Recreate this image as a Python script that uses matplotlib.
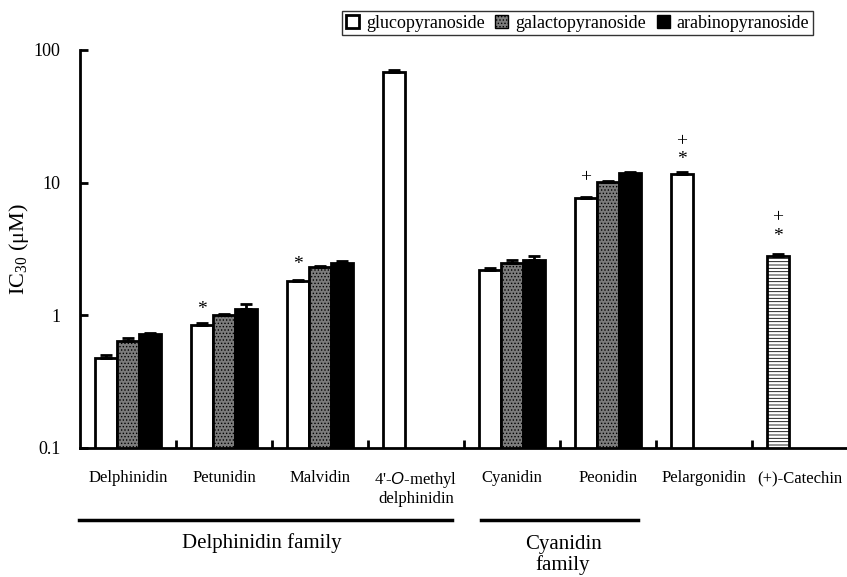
import numpy as np
import matplotlib
matplotlib.use("Agg")
import matplotlib.pyplot as plt
from matplotlib.patches import Patch

plt.rcParams['font.family'] = ['Liberation Serif', 'DejaVu Serif']
plt.rcParams['mathtext.fontset'] = 'custom'
plt.rcParams['mathtext.rm'] = 'Liberation Serif'
plt.rcParams['mathtext.it'] = 'Liberation Sans:italic'
plt.rcParams['hatch.linewidth'] = 0.6

categories = ['Delphinidin', 'Petunidin', 'Malvidin', "4'-$\\it{O}$-methyl\ndelphinidin",
              'Cyanidin', 'Peonidin', 'Pelargonidin', '(+)-Catechin']
series = ['glucopyranoside', 'galactopyranoside', 'arabinopyranoside']

# IC30 values (uM); NaN where the glycoside was not tested
gluco = [0.48, 0.85, 1.80, 68.0, 2.20, 7.6, 11.7, np.nan]
galacto = [0.64, 1.00, 2.30, np.nan, 2.50, 10.1, np.nan, np.nan]
arabino = [0.72, 1.12, 2.50, np.nan, 2.62, 11.8, np.nan, np.nan]
catechin = [np.nan, np.nan, np.nan, np.nan, np.nan, np.nan, np.nan, 2.82]

gluco_err = [0.02, 0.02, 0.04, 3.0, 0.06, 0.25, 0.4, np.nan]
galacto_err = [0.03, 0.02, 0.06, np.nan, 0.12, 0.2, np.nan, np.nan]
arabino_err = [0.02, 0.10, 0.06, np.nan, 0.18, 0.2, np.nan, np.nan]
catechin_err = [np.nan] * 7 + [0.1]

# significance marks: (category index, mark, offset in points above bar)
marks = [(1, '*', 11), (2, '*', 12), (5, '+', 15),
         (6, '*', 10), (6, '+', 23), (7, '*', 14), (7, '+', 27)]

fig = plt.figure(figsize=(8.47, 5.77), dpi=100)
ax = fig.add_axes([80 / 847, 1 - 448 / 577, 768 / 847, 398 / 577])

x = np.arange(len(categories)) + 0.5
w = 0.23
pos = x - w

def bars(xs, vals, errs, **kw):
    vals = np.array(vals, dtype=float)
    errs = np.array(errs, dtype=float)
    ok = ~np.isnan(vals)
    ax.bar(xs[ok], vals[ok], w, edgecolor='black', linewidth=2, zorder=2, **kw)
    ax.errorbar(xs[ok], vals[ok], yerr=[np.zeros(ok.sum()), errs[ok]], fmt='none',
                ecolor='black', elinewidth=2, capsize=4, capthick=2, zorder=3)

bars(pos, gluco, gluco_err, color='white')
bars(x, galacto, galacto_err, color='#7c7c7c', hatch='.....')
bars(x + w, arabino, arabino_err, color='black')
bars(pos, catechin, catechin_err, color='white', hatch='-----')

for i, m, off in marks:
    v = gluco[i] if not np.isnan(gluco[i]) else catechin[i]
    ax.annotate(m, (pos[i], v), xytext=(0, off), textcoords='offset points',
                ha='center', va='center', fontsize=14)

ax.set_yscale('log')
ax.set_ylim(0.1, 100)
ax.set_xlim(0, 8)
ax.set_yticks([0.1, 1, 10, 100])
ax.set_yticklabels(['0.1', '1', '10', '100'], fontsize=13)
ax.yaxis.set_minor_locator(matplotlib.ticker.NullLocator())
ax.tick_params(axis='y', direction='in', length=6, width=2, pad=14)

ax.set_xticks(np.arange(1, 8), minor=True)
ax.tick_params(axis='x', which='minor', direction='in', length=6, width=2)
ax.set_xticks(x)
ax.set_xticklabels(categories, fontsize=12, va='top', linespacing=1.1)
ax.tick_params(axis='x', which='major', length=0, pad=16)

for s in ['top', 'right']:
    ax.spines[s].set_visible(False)
for s in ['left', 'bottom']:
    ax.spines[s].set_linewidth(2)

ax.set_ylabel('IC$_{30}$ ($\\mathrm{\\mu}$M)', fontsize=16, labelpad=2)

# family brackets under the category labels
fig.add_artist(plt.Line2D([79 / 847, 452 / 847], [1 - 520 / 577] * 2, color='black', lw=2.5))
fig.add_artist(plt.Line2D([481 / 847, 638 / 847], [1 - 520 / 577] * 2, color='black', lw=2.5))
fig.text(262 / 847, 1 - 543 / 577, 'Delphinidin family', ha='center', va='center', fontsize=15)
fig.text(563 / 847, 1 - 555 / 577, 'Cyanidin\nfamily', ha='center', va='center', fontsize=15,
         linespacing=1.05)

handles = [Patch(facecolor='white', edgecolor='black', linewidth=2),
           Patch(facecolor='#7c7c7c', edgecolor='black', hatch='.....', linewidth=1),
           Patch(facecolor='black', edgecolor='black')]
leg = fig.legend(handles, series, loc='upper right', bbox_to_anchor=(813 / 847, 1 - 11 / 577),
                 ncol=3, fontsize=13, frameon=True, fancybox=False, edgecolor='black',
                 handlelength=0.7, handleheight=0.7, handletextpad=0.4, columnspacing=0.6,
                 borderpad=0.2, borderaxespad=0)
leg.get_frame().set_linewidth(1)

fig.savefig('out.png', dpi=100)
